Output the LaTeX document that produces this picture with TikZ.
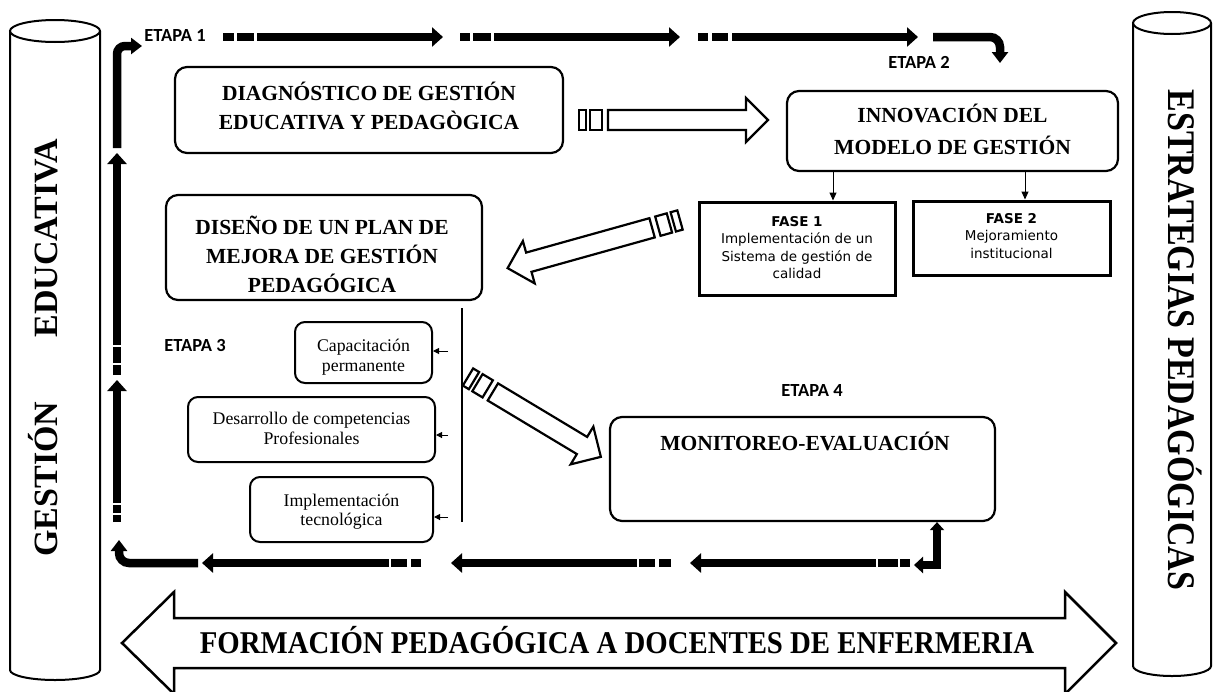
\documentclass[tikz,border=0pt]{standalone}
\usepackage{fontspec}
\setmainfont{Liberation Serif}
\newfontfamily\etapafont{Carlito}
\newfontfamily\fasefont{DejaVu Sans}
\usetikzlibrary{arrows.meta,calc}
\tikzset{
  blk/.style={line width=8.5pt, draw=black, line cap=butt},
  bigtip/.style={-{Triangle[width=19pt,length=11pt]}},
  bendtip/.style={-{Triangle[width=16pt,length=11pt]}},
  thinarrow/.style={line width=1pt, -{Triangle[width=7pt,length=8pt]}},
  tinyarrow/.style={line width=1pt, -{Triangle[width=6pt,length=6pt]}},
  rbox/.style={draw, line width=2.2pt, rounded corners=12pt, fill=white, inner sep=0pt},
  sbox/.style={draw, line width=2pt, rounded corners=10pt, fill=white, inner sep=0pt},
  fbox/.style={draw, line width=3pt, fill=white, inner sep=0pt},
  hollow/.style={draw, line width=2.2pt, fill=white, line join=miter},
  titletext/.style={font=\fontsize{21.5}{26}\selectfont\bfseries, anchor=base, inner sep=0pt},
  smalltext/.style={font=\fontsize{17.8}{20}\selectfont, anchor=base, inner sep=0pt},
  fasetext/.style={font=\fasefont\fontsize{13.5}{16}\selectfont, anchor=base, inner sep=0pt},
  etapatext/.style={font=\etapafont\bfseries\fontsize{18.5}{20}\selectfont, anchor=base, inner sep=0pt},
  cyltext/.style={font=\bfseries, anchor=base, inner sep=0pt},
  pics/harrow/.style={code={
    \draw[hollow] (0,-10) rectangle (7,10);
    \draw[hollow] (11,-10) rectangle (23,10);
    \draw[hollow] (29,-10) -- (#1-22,-10) -- (#1-22,-22) -- (#1,0) -- (#1-22,22) -- (#1-22,10) -- (29,10) -- cycle;
  }},
}
\begin{document}
\begin{tikzpicture}[x=1pt,y=-1pt]
\useasboundingbox (0,0) rectangle (1214,691);
\fill[white] (0,0) rectangle (1214,691);

% cylinders
\draw[line width=2pt, fill=white] (10,31) -- (10,670) arc[start angle=180,end angle=0,x radius=45,y radius=10] -- (100,31);
\draw[line width=2pt, fill=white] (55,31) ellipse[x radius=45, y radius=11];
\draw[line width=2pt, fill=white] (1133,23) -- (1133,666) arc[start angle=180,end angle=0,x radius=39,y radius=10] -- (1211,23);
\draw[line width=2pt, fill=white] (1172,23) ellipse[x radius=39, y radius=11];
\node[cyltext, rotate=90, font=\fontsize{34}{38}\selectfont\bfseries] (gest) at (57,347.5) {GESTIÓN\hspace{64pt}EDUCATIVA};
\node[cyltext, rotate=-90, font=\fontsize{34}{38}\selectfont\bfseries] (estr) at (1168,340) {\scalebox{1}[1.15]{ESTRATEGIAS PEDAGÓGICAS}};

% big double arrow
\draw[hollow, line width=2.5pt] (122,643) -- (174,592) -- (174,618) -- (1065,618) -- (1065,592) -- (1116,643) -- (1065,694) -- (1065,668) -- (174,668) -- (174,694) -- cycle;
\node[cyltext, font=\fontsize{28.8}{32}\selectfont\bfseries] (form) at (617,653) {\scalebox{1}[1.1]{FORMACIÓN PEDAGÓGICA A DOCENTES DE ENFERMERIA}};

% boxes
\node[rbox, minimum width=388pt, minimum height=86pt] (diag) at (369,110) {};
\node[titletext] (diag1) at (369,100) {DIAGNÓSTICO DE GESTIÓN};
\node[titletext] (diag2) at (369,129) {EDUCATIVA Y PEDAGÒGICA};

\node[rbox, minimum width=331pt, minimum height=80pt] (innov) at (952.5,131) {};
\node[titletext] (innov1) at (952.5,122) {INNOVACIÓN DEL};
\node[titletext] (innov2) at (952.5,154) {MODELO DE GESTIÓN};

\node[fbox, minimum width=196pt, minimum height=93pt] (f1) at (797,248.5) {};
\node[fasetext, font=\fasefont\bfseries\fontsize{13.5}{16}\selectfont] (f1a) at (797,226) {FASE 1};
\node[fasetext] (f1b) at (797,243) {Implementación de un};
\node[fasetext] (f1c) at (797,261) {Sistema de gestión de};
\node[fasetext] (f1d) at (797,278) {calidad};

\node[fbox, minimum width=197pt, minimum height=74pt] (f2) at (1011.5,238) {};
\node[fasetext, font=\fasefont\bfseries\fontsize{13.5}{16}\selectfont] (f2a) at (1011.5,223) {FASE 2};
\node[fasetext] (f2b) at (1011.5,240) {Mejoramiento};
\node[fasetext] (f2c) at (1011.5,258) {institucional};

\node[rbox, minimum width=316pt, minimum height=105pt] (dis) at (324,247.5) {};
\node[titletext] (dis1) at (322,234) {DISEÑO DE UN PLAN DE};
\node[titletext] (dis2) at (322,263) {MEJORA DE GESTIÓN};
\node[titletext] (dis3) at (322,292) {PEDAGÓGICA};

\node[rbox, minimum width=385pt, minimum height=104pt] (mon) at (802.5,469) {};
\node[titletext] (mon1) at (805,450) {MONITOREO-EVALUACIÓN};

\node[sbox, minimum width=137pt, minimum height=61pt] (cap) at (363.5,352.5) {};
\node[smalltext] (cap1) at (363.5,351) {Capacitación};
\node[smalltext] (cap2) at (363.5,371) {permanente};
\node[sbox, minimum width=247pt, minimum height=65pt] (des) at (311.5,429.5) {};
\node[smalltext] (des1) at (311.5,424) {Desarrollo de competencias};
\node[smalltext] (des2) at (311.5,444) {Profesionales};
\node[sbox, minimum width=183pt, minimum height=65pt] (imp) at (341.5,509.5) {};
\node[smalltext] (imp1) at (341.5,506) {Implementación};
\node[smalltext] (imp2) at (341.5,525) {tecnológica};

% etapas
\node[etapatext] (et1) at (175,41) {ETAPA 1};
\node[etapatext] (et2) at (919,68) {ETAPA 2};
\node[etapatext] (et3) at (195,351) {ETAPA 3};
\node[etapatext] (et4) at (812,396) {ETAPA 4};

% thin connectors
\coordinate (ax1) at (833,0);
\coordinate (ax2) at (1025,0);
\draw[thinarrow] (ax1 |- innov.south) -- (ax1 |- f1.north);
\draw[thinarrow] (ax2 |- innov.south) -- (ax2 |- f2.north);
\draw[line width=1.2pt] (462,308) -- (462,522);
\draw[tinyarrow] (448,351) -- (cap.east |- 0,351);
\draw[tinyarrow] (448,435) -- (des.east |- 0,435);
\draw[tinyarrow] (448,517) -- (imp.east |- 0,517);

% hollow arrows
\pic at (579,120) {harrow=189};
\pic[rotate=195.6] at (680,220) {harrow=179};
\pic[rotate=-31] at (468,377) {harrow=155};

% top row of black arrows
\draw[blk] (223,37) -- (234,37);
\draw[blk] (237,37) -- (254,37);
\draw[blk, bigtip] (257,37) -- (443,37);
\draw[blk] (460,37) -- (470,37);
\draw[blk] (473,37) -- (491,37);
\draw[blk, bigtip] (494,37) -- (680,37);
\draw[blk] (698,37) -- (708,37);
\draw[blk] (712,37) -- (728,37);
\draw[blk, bigtip] (732,37) -- (918,37);
\draw[blk, rounded corners=10pt, bendtip] (933,37) -- (1000,37) -- (1000,63);

% left column
\draw[blk] (117,522) -- (117,515);
\draw[blk] (117,513) -- (117,505);
\draw[blk, bigtip] (117,503) -- (117,380);
\draw[blk] (117,375) -- (117,365);
\draw[blk] (117,363) -- (117,347);
\draw[blk, bigtip] (117,345) -- (117,153);
\draw[blk, rounded corners=8pt, bendtip] (117,148) -- (117,46) -- (142,46);

% bottom row
\draw[blk, rounded corners=10pt, bendtip] (198,563) -- (119,563) -- (119,540);
\draw[blk] (421,563) -- (411,563);
\draw[blk] (407,563) -- (391,563);
\draw[blk, bigtip] (389,563) -- (202,563);
\draw[blk] (671,563) -- (659,563);
\draw[blk] (655,563) -- (639,563);
\draw[blk, bigtip] (637,563) -- (451,563);
\draw[blk] (910,563) -- (900,563);
\draw[blk] (898,563) -- (878,563);
\draw[blk, bigtip] (876,563) -- (690,563);
\draw[blk, {Triangle[width=14pt,length=8pt]}-{Triangle[width=16pt,length=9pt]}] (937,0 |- mon.south) -- (937,565) -- (914,565);
\end{tikzpicture}
\end{document}
